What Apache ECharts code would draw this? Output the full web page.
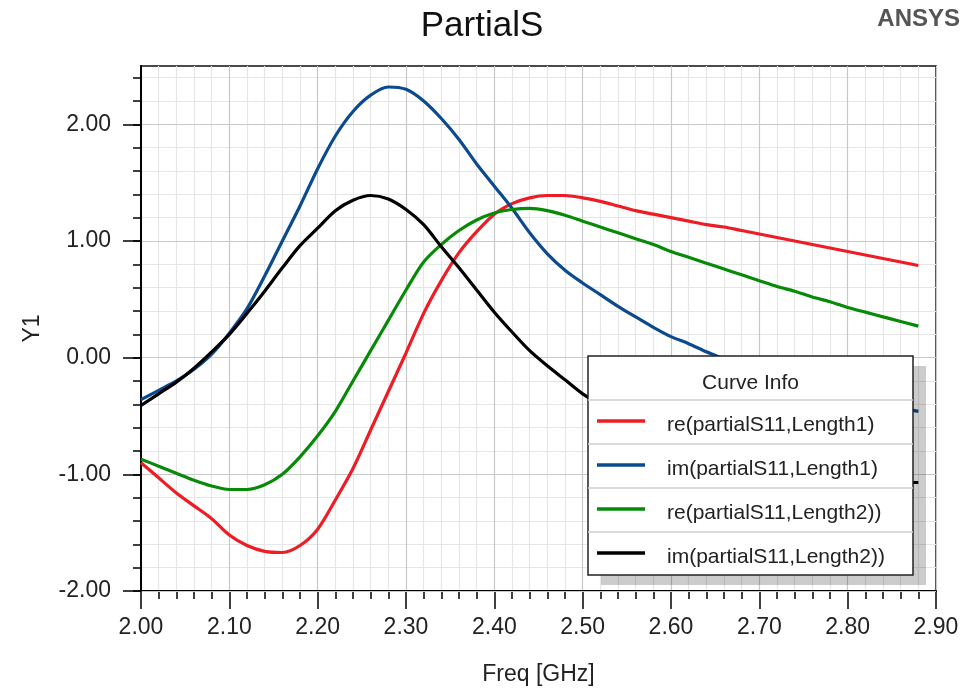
<!DOCTYPE html>
<html>
<head>
<meta charset="utf-8">
<script src="https://cdn.jsdelivr.net/npm/echarts@6/dist/echarts.min.js"></script>
<style>
  html, body { margin: 0; padding: 0; background: #fff; }
  #main { width: 970px; height: 691px; }
</style>
</head>
<body>
<div id="main"></div>
<script>
// frequency sweep (GHz)
var freq = [2.00, 2.02, 2.04, 2.06, 2.08, 2.10, 2.12, 2.14, 2.16, 2.18,
            2.20, 2.22, 2.24, 2.26, 2.28, 2.30, 2.32, 2.34, 2.36, 2.38,
            2.40, 2.42, 2.44, 2.46, 2.48, 2.50, 2.52, 2.54, 2.56, 2.58,
            2.60, 2.62, 2.64, 2.66, 2.68, 2.70, 2.72, 2.74, 2.76, 2.78,
            2.80, 2.82, 2.84, 2.86, 2.88];

var reLength1 = [-0.90, -1.03, -1.16, -1.27, -1.38, -1.52, -1.61, -1.66, -1.67, -1.61,
                 -1.47, -1.22, -0.95, -0.62, -0.29, 0.04, 0.38, 0.66, 0.90, 1.08,
                 1.23, 1.32, 1.37, 1.39, 1.39, 1.37, 1.34, 1.30, 1.26, 1.23,
                 1.20, 1.17, 1.14, 1.12, 1.09, 1.06, 1.03, 1.00, 0.97, 0.94,
                 0.91, 0.88, 0.85, 0.82, 0.79];

var imLength1 = [-0.36, -0.28, -0.20, -0.10, 0.03, 0.21, 0.42, 0.70, 1.00, 1.30,
                 1.62, 1.90, 2.11, 2.25, 2.32, 2.30, 2.20, 2.05, 1.87, 1.66,
                 1.47, 1.28, 1.07, 0.89, 0.75, 0.64, 0.54, 0.44, 0.35, 0.26,
                 0.18, 0.12, 0.05, -0.01, -0.07, -0.13, -0.18, -0.22, -0.27, -0.31,
                 -0.34, -0.37, -0.40, -0.43, -0.46];

var reLength2 = [-0.87, -0.93, -0.99, -1.05, -1.10, -1.13, -1.13, -1.09, -1.00, -0.85,
                 -0.67, -0.46, -0.20, 0.06, 0.32, 0.58, 0.82, 0.97, 1.09, 1.18,
                 1.24, 1.27, 1.28, 1.26, 1.22, 1.17, 1.12, 1.07, 1.02, 0.97,
                 0.91, 0.86, 0.81, 0.76, 0.71, 0.66, 0.61, 0.57, 0.52, 0.48,
                 0.43, 0.39, 0.35, 0.31, 0.27];

var imLength2 = [-0.41, -0.31, -0.21, -0.09, 0.05, 0.20, 0.38, 0.57, 0.77, 0.96,
                 1.11, 1.26, 1.35, 1.39, 1.36, 1.27, 1.14, 0.95, 0.77, 0.58,
                 0.39, 0.22, 0.06, -0.07, -0.19, -0.31, -0.40, -0.48, -0.56, -0.63,
                 -0.69, -0.75, -0.80, -0.84, -0.88, -0.92, -0.95, -0.98, -1.00, -1.02,
                 -1.04, -1.05, -1.06, -1.07, -1.07];

var seriesNames = ['re(partialS11,Length1)', 'im(partialS11,Length1)',
                   're(partialS11,Length2))', 'im(partialS11,Length2))'];
var seriesValues = [reLength1, imLength1, reLength2, imLength2];
var seriesColors = ['#ee1c24', '#0b4a8f', '#078a07', '#000000'];

// tick labels
var yMajorTicks = [-2, -1, 0, 1, 2];
var yMinorTicks = [];
for (var t = -10; t <= 12; t++) yMinorTicks.push(t / 5);

var FONT = '"Liberation Sans", Arial, sans-serif';

var chart = echarts.init(document.getElementById('main'));

var series = seriesNames.map(function (name, i) {
    return {
        name: name,
        type: 'line',
        yAxisIndex: 1,
        showSymbol: false,
        smooth: 0.3,
        lineStyle: { color: seriesColors[i], width: 3.2 },
        data: freq.map(function (f, k) { return [f, seriesValues[i][k]]; })
    };
});

// "Curve Info" box, drawn as a table like the original
var box = { x: 588, y: 356, w: 325, h: 219, head: 44, row: 44 };
var legendEls = [
    { type: 'rect', z: 100, shape: { x: box.x + 13, y: box.y + 10, width: box.w, height: box.h },
      style: { fill: 'rgba(0,0,0,0.2)' } },
    { type: 'rect', z: 101, shape: { x: box.x, y: box.y, width: box.w, height: box.h },
      style: { fill: '#fff', stroke: '#222', lineWidth: 1.5 } },
    { type: 'text', z: 102, style: { x: box.x + box.w / 2, y: box.y + 27, text: 'Curve Info',
      font: '21px ' + FONT, fill: '#222', align: 'center', verticalAlign: 'middle' } }
];
seriesNames.forEach(function (name, i) {
    var top = box.y + box.head + i * box.row;
    legendEls.push({ type: 'line', z: 102, shape: { x1: box.x, y1: top, x2: box.x + box.w, y2: top },
        style: { stroke: '#cfcfcf', lineWidth: 1.5 } });
    legendEls.push({ type: 'line', z: 102, shape: { x1: box.x + 9, y1: top + 21, x2: box.x + 57, y2: top + 21 },
        style: { stroke: seriesColors[i], lineWidth: 3.5 } });
    legendEls.push({ type: 'text', z: 102, style: { x: box.x + 79, y: top + 25, text: name,
        font: '21px ' + FONT, fill: '#222', align: 'left', verticalAlign: 'middle' } });
});

var option = {
    animation: false,
    backgroundColor: '#fff',
    textStyle: { fontFamily: FONT },
    title: [{
        text: 'PartialS',
        left: 482,
        top: 9,
        padding: 0,
        textAlign: 'center',
        textStyle: { fontSize: 35, fontWeight: 'normal', color: '#111', fontFamily: FONT }
    }, {
        text: 'ANSYS',
        right: 10,
        top: 7,
        padding: 0,
        textStyle: { fontSize: 24, fontWeight: 'bold', color: '#555', fontFamily: FONT }
    }],
    grid: {
        left: 141, top: 66, right: 34, bottom: 96,
        show: true, borderColor: '#111', borderWidth: 1.5, backgroundColor: '#fff'
    },
    xAxis: {
        type: 'value',
        min: 2, max: 2.9, interval: 0.1,
        name: 'Freq [GHz]',
        nameLocation: 'middle',
        nameGap: 72,
        nameTextStyle: { fontSize: 23, color: '#222', fontFamily: FONT },
        axisLine: { onZero: false, lineStyle: { color: '#000', width: 2 } },
        axisTick: { length: 18, lineStyle: { color: '#000', width: 1.5 } },
        minorTick: { show: true, splitNumber: 5, length: 8, lineStyle: { color: '#000', width: 1.5 } },
        axisLabel: { margin: 25, fontSize: 23, color: '#222', fontFamily: FONT,
                     formatter: function (v) { return v.toFixed(2); } },
        splitLine: { show: true, lineStyle: { color: '#c8c8c8', width: 1.2 } },
        minorSplitLine: { show: true, lineStyle: { color: '#e6e6e6', width: 1.2 } }
    },
    yAxis: [{
        // minor grid + short ticks every 0.2
        type: 'value', position: 'left',
        min: -2, max: 2.5, interval: 0.2,
        axisLine: { show: false, onZero: false },
        axisTick: { length: 8, customValues: yMinorTicks, lineStyle: { color: '#000', width: 1.5 } },
        axisLabel: { show: false },
        splitLine: { show: true, lineStyle: { color: '#e6e6e6', width: 1.2 } }
    }, {
        type: 'value', position: 'left', z: 1,
        min: -2, max: 2.5, interval: 1,
        name: 'Y1',
        nameLocation: 'middle',
        nameGap: 97,
        nameTextStyle: { fontSize: 23, color: '#222', fontFamily: FONT },
        axisLine: { onZero: false, lineStyle: { color: '#000', width: 2 } },
        axisTick: { length: 18, customValues: yMajorTicks, lineStyle: { color: '#000', width: 1.5 } },
        axisLabel: { margin: 30, fontSize: 23, color: '#222', fontFamily: FONT, customValues: yMajorTicks,
                     formatter: function (v) { return v.toFixed(2); } },
        splitLine: { show: true, lineStyle: { color: '#c8c8c8', width: 1.2 } }
    }],
    graphic: legendEls,
    series: series
};

chart.setOption(option);
</script>
</body>
</html>
